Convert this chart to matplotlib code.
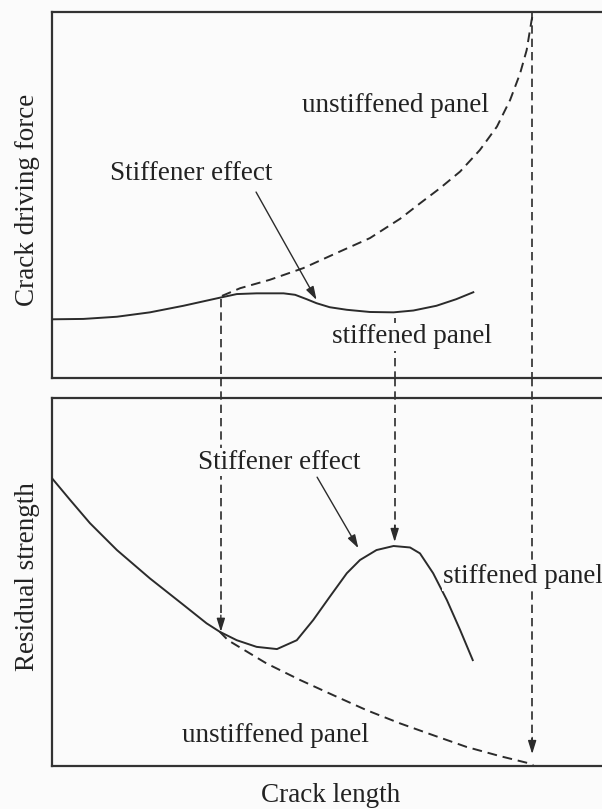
import matplotlib
matplotlib.use("Agg")
import matplotlib.pyplot as plt

plt.rcParams["font.family"] = ["Liberation Serif", "DejaVu Serif"]

# crack driving force (top panel)
top_stiff_x = [0, 0.57, 1.18, 1.78, 2.39, 2.69, 3.05, 3.36, 3.72, 4.21, 4.42, 4.63,
               4.81, 5.05, 5.36, 5.78, 6.21, 6.57, 6.99, 7.35, 7.66]
top_stiff_y = [1.60, 1.61, 1.67, 1.79, 1.97, 2.07, 2.19, 2.29, 2.31, 2.31, 2.27, 2.15,
               2.04, 1.93, 1.86, 1.80, 1.79, 1.84, 1.97, 2.15, 2.34]
top_unstiff_x = [3.09, 3.42, 3.96, 4.57, 5.17, 5.78, 6.33, 6.69, 7.05, 7.42, 7.78, 8.09,
                 8.33, 8.51, 8.63, 8.72, 8.75]
top_unstiff_y = [2.24, 2.45, 2.68, 3.00, 3.41, 3.82, 4.35, 4.77, 5.18, 5.64, 6.23, 6.87,
                 7.60, 8.32, 8.96, 9.78, 10.0]

# residual strength (bottom panel)
bot_stiff_x = [0, 0.33, 0.69, 1.18, 1.78, 2.39, 2.81, 3.05, 3.36, 3.72, 4.09, 4.45,
               4.75, 5.05, 5.36, 5.6, 5.9, 6.21, 6.51, 6.69, 6.93, 7.18, 7.42, 7.65]
bot_stiff_y = [7.82, 7.23, 6.60, 5.87, 5.10, 4.38, 3.88, 3.65, 3.42, 3.24, 3.18, 3.42,
               3.97, 4.60, 5.24, 5.60, 5.87, 5.98, 5.94, 5.78, 5.24, 4.51, 3.70, 2.88]
bot_unstiff_x = [3.05, 3.2, 3.90, 4.51, 5.11, 5.72, 6.33, 6.93, 7.54, 8.15, 8.69, 8.75]
bot_unstiff_y = [3.65, 3.42, 2.79, 2.34, 1.93, 1.52, 1.16, 0.84, 0.52, 0.27, 0.07, 0.03]

# vertical projection lines: x, start in top panel, arrow tip in bottom panel
proj_x = [3.07, 6.23, 8.73]
proj_top = [2.15, 1.64, 10.0]
proj_tip = [3.65, 6.09, 0.33]

INK = "#2b2b2b"
DASH = (0, (5, 3))
FS = 19.5


def style(ax):
    ax.set_xlim(0, 10)
    ax.set_ylim(0, 10)
    ax.set_xticks([])
    ax.set_yticks([])
    ax.set_facecolor("#fbfbfb")
    ax.spines["right"].set_visible(False)
    for s in ["left", "top", "bottom"]:
        ax.spines[s].set_linewidth(1.6)
        ax.spines[s].set_color("#333333")


fig = plt.figure(figsize=(6.02, 8.09), dpi=100, facecolor="#fbfbfb")
ax1 = fig.add_axes([0.0864, 0.533, 0.9136, 0.452])
ax2 = fig.add_axes([0.0864, 0.053, 0.9136, 0.455])
style(ax1)
style(ax2)

box = dict(facecolor="#fbfbfb", edgecolor="none", pad=1)
head = "-|>,head_length=0.8,head_width=0.25"

# top panel
ax1.plot(top_stiff_x, top_stiff_y, color=INK, lw=1.4, zorder=3)
ax1.plot(top_unstiff_x, top_unstiff_y, color=INK, lw=1.4, ls=DASH, zorder=3, clip_on=False)
ax1.text(6.25, 7.46, "unstiffened panel", fontsize=FS, ha="center", va="center", color="#222")
ax1.text(2.53, 5.60, "Stiffener effect", fontsize=FS, ha="center", va="center", color="#222")
ax1.text(6.55, 1.12, "stiffened panel", fontsize=FS, ha="center", va="center", color="#222",
         bbox=box, zorder=5)
ax1.annotate("", xy=(4.81, 2.13), xytext=(3.71, 5.08),
             arrowprops=dict(arrowstyle=head, color=INK, lw=1.0, shrinkA=0, shrinkB=0))

# bottom panel
ax2.plot(bot_stiff_x, bot_stiff_y, color=INK, lw=1.4, zorder=3)
ax2.plot(bot_unstiff_x, bot_unstiff_y, color=INK, lw=1.4, ls=DASH, zorder=3)
ax2.text(4.13, 8.26, "Stiffener effect", fontsize=FS, ha="center", va="center", color="#222",
         bbox=box, zorder=5)
ax2.text(7.11, 5.14, "stiffened panel", fontsize=FS, ha="left", va="center", color="#222",
         bbox=box, zorder=5, clip_on=False)
ax2.text(4.07, 0.84, "unstiffened panel", fontsize=FS, ha="center", va="center", color="#222")
ax2.annotate("", xy=(5.57, 5.92), xytext=(4.82, 7.85),
             arrowprops=dict(arrowstyle=head, color=INK, lw=1.0, shrinkA=0, shrinkB=0))

# projection lines across both panels
gap = 10 + 20 / 36.8
for x, y0, tip in zip(proj_x, proj_top, proj_tip):
    ax1.plot([x, x], [y0, 0], color=INK, lw=1.2, ls=DASH, zorder=2)
    ax2.plot([x, x], [gap, tip + 0.35], color=INK, lw=1.2, ls=DASH, zorder=2, clip_on=False)
    ax2.annotate("", xy=(x, tip), xytext=(x, tip + 0.45),
                 arrowprops=dict(arrowstyle=head, color=INK, lw=1.0, shrinkA=0, shrinkB=0))

fig.text(0.045, 0.753, "Crack driving force", rotation=90, fontsize=FS,
         ha="center", va="center", color="#222")
fig.text(0.045, 0.287, "Residual strength", rotation=90, fontsize=FS,
         ha="center", va="center", color="#222")
fig.text(0.55, 0.017, "Crack length", fontsize=FS, ha="center", va="center", color="#222")

fig.savefig("out.png", dpi=100, facecolor=fig.get_facecolor())
